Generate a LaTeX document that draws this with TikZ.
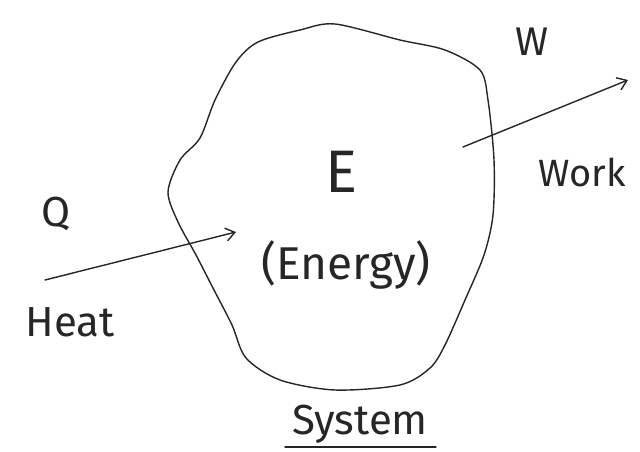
\documentclass[tikz,border=0pt]{standalone}
\usepackage{fontspec}
\setmainfont{Fira Sans}
\usetikzlibrary{arrows.meta}
\begin{document}
\begin{tikzpicture}[x=1pt,y=-1pt,
  ink/.style={line width=1.4pt,black!85,line cap=round,line join=round},
  arr/.style={ink,-{Straight Barb[length=9pt,width=13pt]}},
  lbl/.style={font=\fontsize{38}{42}\selectfont,black!85,inner sep=0pt}]
\useasboundingbox (0,0) rectangle (640,452);
\fill[white] (0,0) rectangle (640,452);
% system boundary
\draw[ink] plot[smooth cycle,tension=0.5] coordinates {
 (258,42) (300,30) (335,24) (400,40) (445,50) (480,70) (488,100)
 (494,160) (493,215) (484,255) (465,300) (445,345) (430,368) (400,385)
 (335,390) (280,380) (246,358) (232,325) (214,290) (196,255) (178,222)
 (168,192) (180,160) (200,138) (215,100) (236,62)};
% nodes
\node[lbl,font=\fontsize{60}{64}\selectfont] (E) at (342,172) {E};
\node[lbl,font=\fontsize{46}{50}\selectfont] (en) at (346,265) {(Energy)};
\node[lbl,font=\fontsize{42}{46}\selectfont] (Q) at (56,214) {Q};
\node[lbl,font=\fontsize{42}{46}\selectfont] (heat) at (70,322) {Heat};
\node[lbl,font=\fontsize{40}{44}\selectfont] (W) at (532,42) {W};
\node[lbl,font=\fontsize{38}{42}\selectfont] (work) at (582,172) {Work};
\node[lbl,font=\fontsize{42}{46}\selectfont] (sys) at (360,424) {System};
\coordinate (h0) at (45,280);
\coordinate (h1) at (236,232);
\coordinate (w0) at (463,147);
\coordinate (w1) at (628,80);
\draw[arr] (h0) -- (h1);
\draw[arr] (w0) -- (w1);
\draw[ink] (285,447) -- (436,447);
\end{tikzpicture}
\end{document}
